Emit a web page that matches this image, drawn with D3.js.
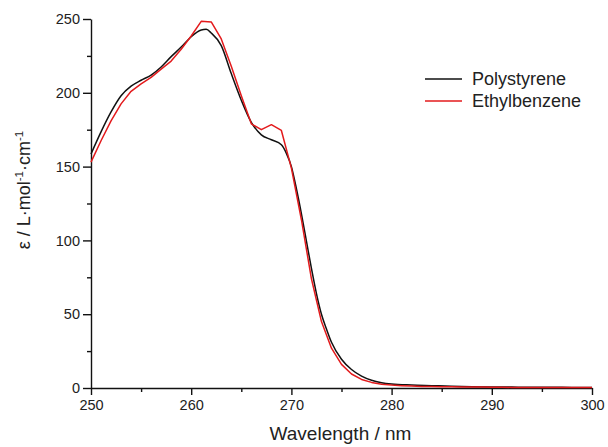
<!DOCTYPE html>
<html>
<head>
<meta charset="utf-8">
<script src="https://cdn.jsdelivr.net/npm/d3@7"></script>
<style>
  html, body { margin: 0; padding: 0; background: #fff; }
  svg { display: block; font-family: "Liberation Sans", Arial, sans-serif; }
</style>
</head>
<body>
<svg id="chart" width="608" height="447"></svg>
<script>
// UV absorption spectra: molar absorptivity vs wavelength
const polystyreneWl = [250, 251, 252, 253, 254, 255, 256, 257, 258, 259, 260, 261, 261.5, 262, 263, 264, 265, 266, 267, 268, 269, 269.5, 270, 270.5, 271, 271.5, 272, 272.5, 273, 273.5, 274, 275, 276, 277, 278, 279, 280, 282, 284, 286, 288, 290, 292, 294, 296, 298, 300];
const polystyreneEps = [158.5, 173.5, 187, 198, 204.5, 208.5, 212, 217.5, 224.5, 231, 238, 242.5, 243, 240.5, 232, 213, 195, 180, 171.5, 168.2, 164.8, 159, 150, 135, 118, 99.5, 81, 64, 50, 40, 31, 19.5, 12.5, 8, 5.2, 3.6, 2.7, 2.0, 1.6, 1.2, 0.9, 0.7, 0.6, 0.5, 0.5, 0.4, 0.4];

const ethylbenzeneWl = d3.range(250, 301);
const ethylbenzeneEps = [153, 167.5, 181, 192.5, 201, 206, 210.5, 216, 221.5, 229.5, 238.5, 248.4, 248, 236.5, 218, 198, 179, 175, 178.4, 174.5, 149, 114, 74, 45, 27, 16, 9.5, 5.8, 3.8, 2.6, 2.0, 1.6, 1.3, 1.1, 1.0, 0.9, 0.8, 0.7, 0.6, 0.6, 0.5, 0.5, 0.4, 0.4, 0.4, 0.3, 0.3, 0.3, 0.3, 0.3, 0.3];

const xMajorTicks = [250, 260, 270, 280, 290, 300];
const xMinorTicks = [255, 265, 275, 285, 295];
const yMajorTicks = [0, 50, 100, 150, 200, 250];
const yMinorTicks = [25, 75, 125, 175, 225];

const seriesNames = ["Polystyrene", "Ethylbenzene"];
const seriesColors = ["#111111", "#e31a1c"];

const svg = d3.select("#chart");
const x = d3.scaleLinear().domain([250, 300]).range([91, 592]);
const y = d3.scaleLinear().domain([0, 250]).range([388, 19]);

const textColor = "#222";

// x axis
const gx = svg.append("g").attr("transform", `translate(0,${y(0)})`);
gx.call(d3.axisBottom(x).tickValues(xMajorTicks).tickSize(7).tickSizeOuter(0).tickPadding(5));
const gxMinor = svg.append("g").attr("transform", `translate(0,${y(0)})`);
gxMinor.call(d3.axisBottom(x).tickValues(xMinorTicks).tickSize(4).tickFormat(""));
gxMinor.select(".domain").remove();

// y axis
const gy = svg.append("g").attr("transform", `translate(${x(250)},0)`);
gy.call(d3.axisLeft(y).tickValues(yMajorTicks).tickSize(8).tickSizeOuter(0).tickPadding(3));
const gyMinor = svg.append("g").attr("transform", `translate(${x(250)},0)`);
gyMinor.call(d3.axisLeft(y).tickValues(yMinorTicks).tickSize(4).tickFormat(""));
gyMinor.select(".domain").remove();

svg.selectAll(".domain, .tick line")
  .attr("stroke", "#111").attr("stroke-width", 1.4);
svg.selectAll(".tick text")
  .attr("fill", textColor).style("font-size", "14.5px");

// axis titles
svg.append("text")
  .attr("x", (x(250) + x(300)) / 2 - 1)
  .attr("y", 440)
  .attr("text-anchor", "middle")
  .attr("fill", textColor)
  .style("font-size", "19px")
  .text("Wavelength / nm");

const yTitle = svg.append("text")
  .attr("transform", "translate(30,190) rotate(-90)")
  .attr("text-anchor", "middle")
  .attr("fill", textColor)
  .style("font-size", "18px");
yTitle.append("tspan").text("ε / L·mol");
yTitle.append("tspan").attr("dy", -7).style("font-size", "11.5px").text("-1");
yTitle.append("tspan").attr("dy", 7).text("·cm");
yTitle.append("tspan").attr("dy", -7).style("font-size", "11.5px").text("-1");

// spectra
const blackLine = d3.line()
  .x((d, i) => x(polystyreneWl[i]))
  .y(d => y(d))
  .curve(d3.curveMonotoneX);
const redLine = d3.line()
  .x((d, i) => x(ethylbenzeneWl[i]))
  .y(d => y(d));

svg.append("path")
  .datum(polystyreneEps)
  .attr("fill", "none")
  .attr("stroke", seriesColors[0])
  .attr("stroke-width", 1.5)
  .attr("stroke-linejoin", "round")
  .attr("d", blackLine);

svg.append("path")
  .datum(ethylbenzeneEps)
  .attr("fill", "none")
  .attr("stroke", seriesColors[1])
  .attr("stroke-width", 1.5)
  .attr("stroke-linejoin", "round")
  .attr("d", redLine);

// legend
const legend = svg.append("g").attr("transform", "translate(425,79)");
seriesNames.forEach((name, i) => {
  const row = legend.append("g").attr("transform", `translate(0,${i * 22})`);
  row.append("line")
    .attr("x1", 0).attr("x2", 37)
    .attr("stroke", seriesColors[i]).attr("stroke-width", 1.6);
  row.append("text")
    .attr("x", 47).attr("y", 0)
    .attr("dy", "0.36em")
    .attr("fill", textColor)
    .style("font-size", "18px")
    .text(name);
});
</script>
</body>
</html>
